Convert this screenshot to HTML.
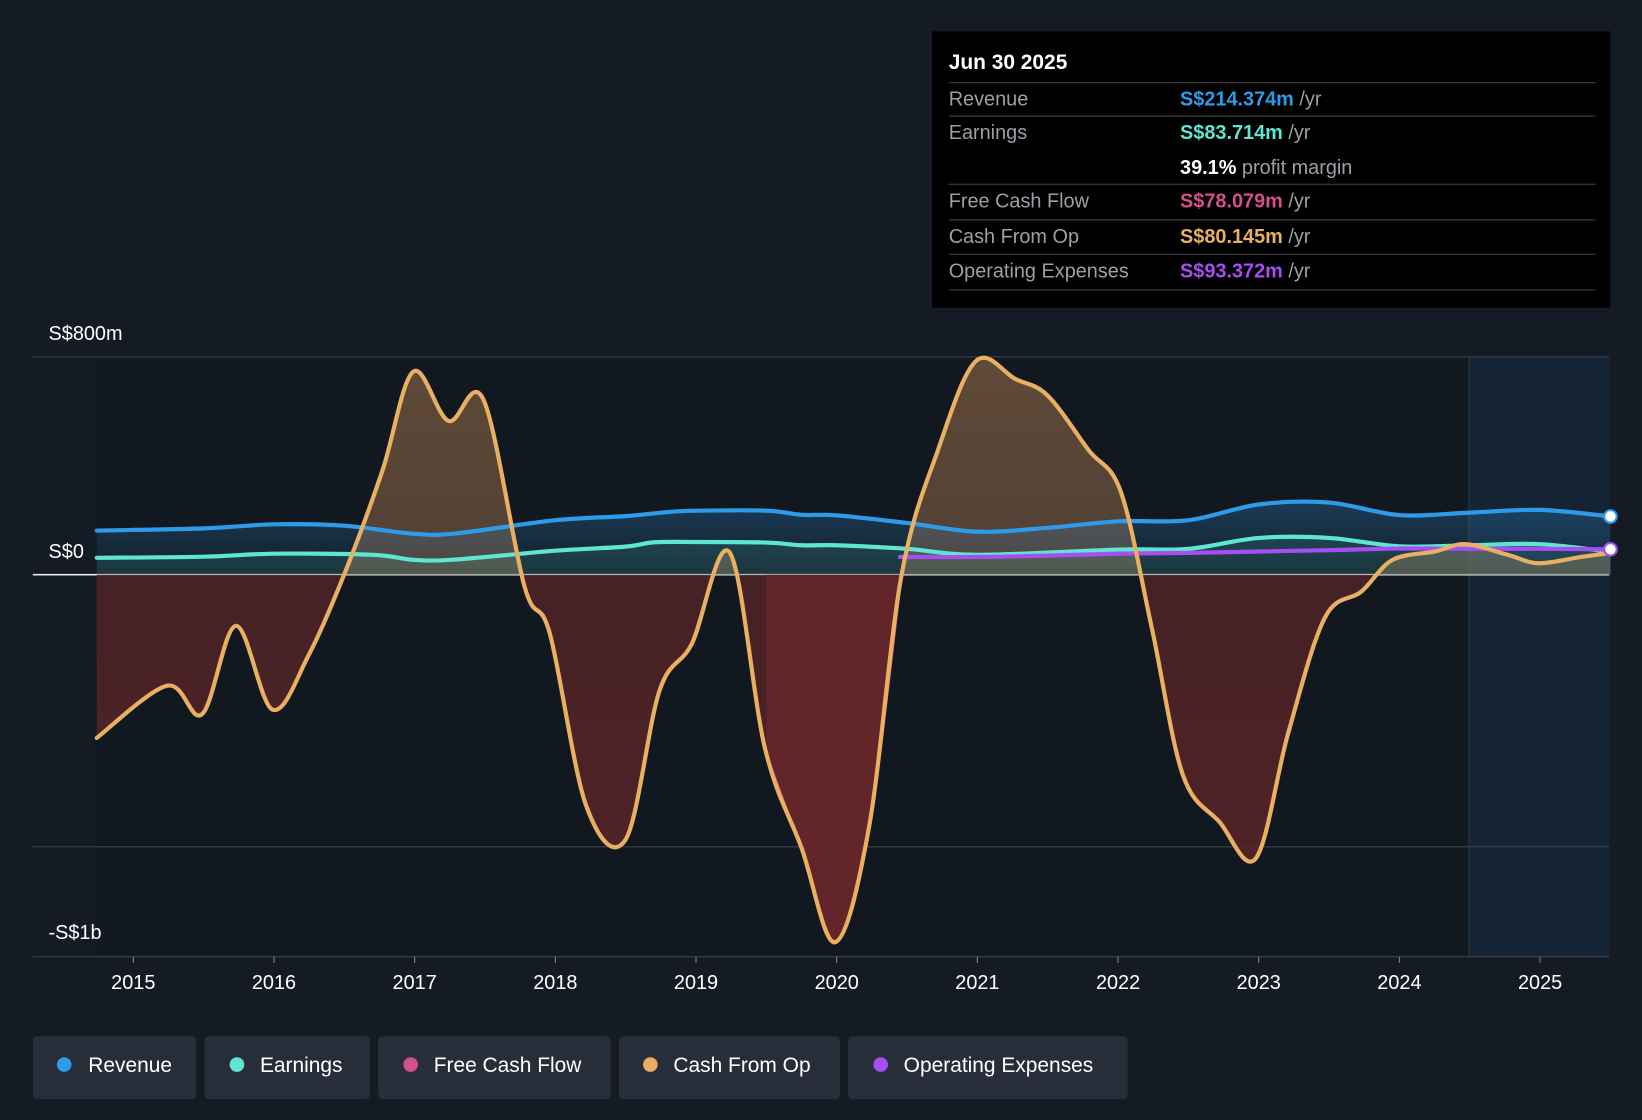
<!DOCTYPE html>
<html><head><meta charset="utf-8"><style>
html,body{margin:0;padding:0;background:#151b24;}
svg{display:block;font-family:"Liberation Sans",sans-serif;}
</style></head><body>
<svg id="chart" width="1642" height="1120" viewBox="0 0 1568 1070">
<defs>
<linearGradient id="posFill" x1="0" y1="0" x2="0" y2="1"><stop offset="0" stop-color="#7a5a40" stop-opacity="0.75"/><stop offset="1" stop-color="#54443a" stop-opacity="0.6"/></linearGradient>
<linearGradient id="negFill" x1="0" y1="0" x2="0" y2="1"><stop offset="0" stop-color="#4a2226" stop-opacity="0.8"/><stop offset="1" stop-color="#5a2428" stop-opacity="0.9"/></linearGradient>
<linearGradient id="revFill" x1="0" y1="0" x2="0" y2="1"><stop offset="0" stop-color="#2e8fd8" stop-opacity="0.3"/><stop offset="1" stop-color="#2e8fd8" stop-opacity="0.05"/></linearGradient>
</defs>
<rect x="0" y="0" width="1568" height="1070" fill="#151b24"/>
<rect x="92" y="341" width="1311" height="573" fill="#121820"/>
<rect x="1403" y="341" width="134" height="573" fill="#142434"/>
<line x1="1403" y1="341" x2="1403" y2="914" stroke="#2a3a4a"/>
<g id="grid"></g>
<g id="areas"></g>
<g id="lines"></g>
<g id="axis"></g>
<g>
<rect x="890" y="30" width="648" height="264" fill="#000"/>
<text x="906" y="66" fill="#fff" font-size="20" font-weight="bold">Jun 30 2025</text>
<g font-size="19">
<line x1="906" y1="79" x2="1524" y2="79" stroke="#444"/>
<text x="906" y="101" fill="#9aa0a6">Revenue</text><text x="1127" y="101"><tspan fill="#2e9be8" font-weight="bold">S$214.374m</tspan><tspan fill="#9aa0a6"> /yr</tspan></text>
<line x1="906" y1="111" x2="1524" y2="111" stroke="#444"/>
<text x="906" y="133" fill="#9aa0a6">Earnings</text><text x="1127" y="133"><tspan fill="#5ee6d0" font-weight="bold">S$83.714m</tspan><tspan fill="#9aa0a6"> /yr</tspan></text>
<text x="1127" y="166"><tspan fill="#fff" font-weight="bold">39.1%</tspan><tspan fill="#9aa0a6"> profit margin</tspan></text>
<line x1="906" y1="176" x2="1524" y2="176" stroke="#444"/>
<text x="906" y="198" fill="#9aa0a6">Free Cash Flow</text><text x="1127" y="198"><tspan fill="#d4508a" font-weight="bold">S$78.079m</tspan><tspan fill="#9aa0a6"> /yr</tspan></text>
<line x1="906" y1="210" x2="1524" y2="210" stroke="#444"/>
<text x="906" y="232" fill="#9aa0a6">Cash From Op</text><text x="1127" y="232"><tspan fill="#e8b060" font-weight="bold">S$80.145m</tspan><tspan fill="#9aa0a6"> /yr</tspan></text>
<line x1="906" y1="243" x2="1524" y2="243" stroke="#444"/>
<text x="906" y="265" fill="#9aa0a6">Operating Expenses</text><text x="1127" y="265"><tspan fill="#a64ef0" font-weight="bold">S$93.372m</tspan><tspan fill="#9aa0a6"> /yr</tspan></text>
<line x1="906" y1="277" x2="1524" y2="277" stroke="#444"/>
</g></g>
<g font-size="20" fill="#fff">
<g><rect x="31" y="990" width="156" height="60" rx="4" fill="#272e39"/><circle cx="61" cy="1017" r="7" fill="#2e9be8"/><text x="84" y="1024" fill="#fff">Revenue</text></g>
<g><rect x="195" y="990" width="158" height="60" rx="4" fill="#272e39"/><circle cx="226" cy="1017" r="7" fill="#5ee6d0"/><text x="248" y="1024" fill="#fff">Earnings</text></g>
<g><rect x="361" y="990" width="222" height="60" rx="4" fill="#272e39"/><circle cx="392" cy="1017" r="7" fill="#d4508a"/><text x="414" y="1024" fill="#fff">Free Cash Flow</text></g>
<g><rect x="591" y="990" width="211" height="60" rx="4" fill="#272e39"/><circle cx="621" cy="1017" r="7" fill="#e8b060"/><text x="643" y="1024" fill="#fff">Cash From Op</text></g>
<g><rect x="810" y="990" width="267" height="60" rx="4" fill="#272e39"/><circle cx="841" cy="1017" r="7" fill="#a64ef0"/><text x="863" y="1024" fill="#fff">Operating Expenses</text></g>
</g>
</svg>
<script>
const xTicks=[2015,2016,2017,2018,2019,2020,2021,2022,2023,2024,2025];
const yTickVals=[800,0,-1000];
const yTickLabels=["S$800m","S$0",""];
const cfoX=[2014.74,2015.24,2015.49,2015.73,2015.99,2016.25,2016.51,2016.77,2016.99,2017.24,2017.49,2017.78,2017.96,2018.22,2018.5,2018.74,2018.97,2019.24,2019.49,2019.75,2019.99,2020.23,2020.46,2020.72,2020.99,2021.27,2021.5,2021.79,2022.02,2022.24,2022.46,2022.72,2022.98,2023.21,2023.47,2023.73,2023.95,2024.25,2024.47,2024.77,2024.99,2025.29,2025.5];
const cfoV=[-600,-408,-512,-188,-496,-292,15,381,746,565,642,-42,-215,-850,-973,-427,-254,81,-638,-1004,-1350,-927,-4,458,785,719,658,458,304,-196,-735,-908,-1042,-581,-158,-62,54,85,112,73,42,65,80];
const fcfX=[2019.5,2019.75,2019.99,2020.23,2020.46];
const fcfV=[-660,-1010,-1355,-930,-8];
const revX=[2014.74,2015.5,2016,2016.5,2017,2017.3,2018,2018.5,2018.8,2019,2019.5,2019.75,2020,2020.5,2021,2021.5,2022,2022.5,2023,2023.5,2024,2024.5,2025,2025.5];
const revV=[162,170,185,180,150,152,200,215,230,235,235,220,218,190,158,172,196,200,258,265,219,228,238,214];
const earnX=[2014.74,2015.5,2016,2016.7,2017,2017.3,2018,2018.5,2018.7,2019,2019.5,2019.75,2020,2020.5,2021,2022,2022.5,2023,2023.5,2024,2024.5,2025,2025.5];
const earnV=[62,66,77,73,54,56,88,103,119,120,118,108,108,95,73,92,95,135,135,104,108,112,84];
const opxX=[2020.45,2021,2021.5,2022,2022.5,2023,2023.5,2024,2024.5,2025,2025.5];
const opxV=[65,65,70,77,80,85,90,96,95,95,93];

const X=y=>127+(y-2015)*134.4;
const Y=v=>549-v*0.26;
const ns="http://www.w3.org/2000/svg";
function mk(tag,attrs,parent){const e=document.createElementNS(ns,tag);for(const k in attrs)e.setAttribute(k,attrs[k]);parent.appendChild(e);return e;}
function pts(xs,vs){return xs.map((x,i)=>[X(x),Y(vs[i])]);}
function curve(p){let d="M"+p[0][0]+","+p[0][1];for(let i=0;i<p.length-1;i++){const p0=p[i-1]||p[i],p1=p[i],p2=p[i+1],p3=p[i+2]||p2;const t=6;d+=" C"+(p1[0]+(p2[0]-p0[0])/t)+","+(p1[1]+(p2[1]-p0[1])/t)+" "+(p2[0]-(p3[0]-p1[0])/t)+","+(p2[1]-(p3[1]-p1[1])/t)+" "+p2[0]+","+p2[1];}return d;}
const grid=document.getElementById('grid'),areas=document.getElementById('areas'),lines=document.getElementById('lines'),axis=document.getElementById('axis');
yTickVals.forEach((v,i)=>{
 const l=mk('line',{x1:31,x2:1537,y1:Y(v),y2:Y(v),stroke:v===0?"#e8e8e8":"#3a414c","stroke-width":v===0?1.5:1},grid);
 
 
 if(yTickLabels[i]){
 const t=mk('text',{x:46,y:Y(v)-16,fill:"#fff","font-size":19},axis);t.textContent=yTickLabels[i];
 
 
 }
});
const bl=mk('text',{x:46,y:897,fill:"#fff","font-size":19},axis);bl.textContent="-S$1b";


const base=mk('line',{x1:31,x2:1537,y1:914,y2:914,stroke:"#3a414c"},grid);


xTicks.forEach(y=>{
 mk('line',{x1:X(y),x2:X(y),y1:914,y2:920,stroke:"#888"},axis);
 const t=mk('text',{x:X(y),y:945,fill:"#fff","font-size":19,"text-anchor":"middle"},axis);t.textContent=y;
 
 
});
function area(xs,vs,fill,name){const p=pts(xs,vs);const d=curve(p)+" L"+p[p.length-1][0]+","+Y(0)+" L"+p[0][0]+","+Y(0)+"Z";const e=mk('path',{d:d,fill:fill},areas);
 
 }
function line(xs,vs,color,w,name){const e=mk('path',{d:curve(pts(xs,vs)),fill:"none",stroke:color,"stroke-width":w,"stroke-linecap":"round"},lines);
 
 }
const defs=document.querySelector('defs');
const cp=mk('clipPath',{id:'cpPos'},defs);mk('rect',{x:0,y:0,width:1568,height:Y(0)},cp);
const cn=mk('clipPath',{id:'cpNeg'},defs);mk('rect',{x:0,y:Y(0),width:1568,height:600},cn);
const gp=mk('g',{"clip-path":"url(#cpPos)"},areas),gn=mk('g',{"clip-path":"url(#cpNeg)"},areas);
function areaIn(g,xs,vs,fill,name){const p=pts(xs,vs);const d=curve(p)+" L"+p[p.length-1][0]+","+Y(0)+" L"+p[0][0]+","+Y(0)+"Z";const e=mk('path',{d:d,fill:fill},g);
 
 }
areaIn(gp,cfoX,cfoV,"url(#posFill)","cash-from-op-area-positive");
areaIn(gn,cfoX,cfoV,"url(#negFill)","cash-from-op-area-negative");
areaIn(gn,fcfX,fcfV,"#62262a","free-cash-flow-area");
area(revX,revV,"url(#revFill)","revenue-area");
area(earnX,earnV,"rgba(94,230,208,0.12)","earnings-area");
line(revX,revV,"#2e9be8",4,"revenue-line");
line(earnX,earnV,"#5ee6d0",4,"earnings-line");
line(opxX,opxV,"#a64ef0",4,"operating-expenses-line");
line(fcfX,fcfV,"#d4508a",2,"free-cash-flow-line");
line(cfoX,cfoV,"#e8b060",4,"cash-from-op-line");
const d1=mk('circle',{cx:X(2025.5),cy:Y(revV[revV.length-1]),r:6,fill:"#fff",stroke:"#2e9be8","stroke-width":2},lines);


const d2=mk('circle',{cx:X(2025.5),cy:Y(opxV[opxV.length-1]),r:6,fill:"#fff",stroke:"#a64ef0","stroke-width":2},lines);


</script>
</body></html>
